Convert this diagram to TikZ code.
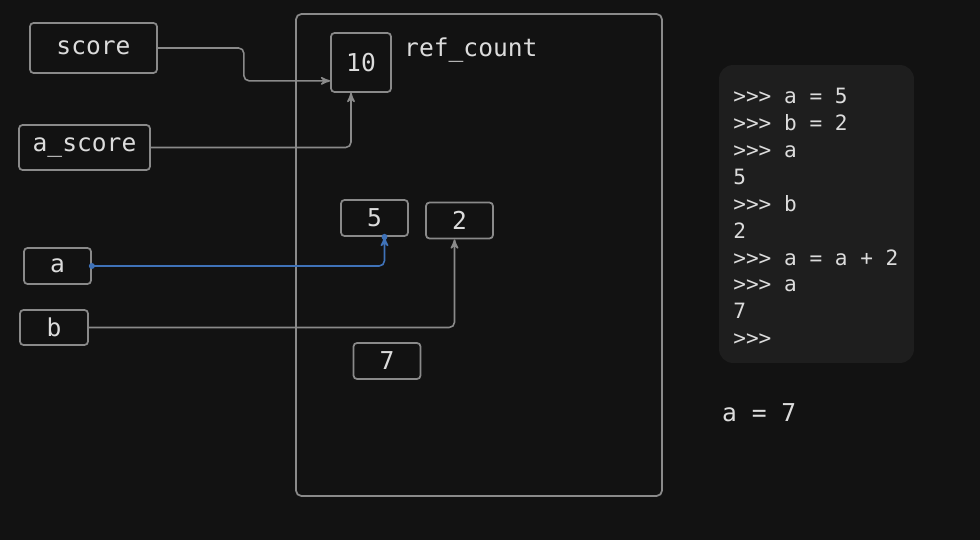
\documentclass[tikz,border=0pt]{standalone}
\usepackage{fontspec}
\setmonofont{DejaVu Sans Mono}
\usetikzlibrary{arrows}
\usepackage{xcolor}
\definecolor{bg}{HTML}{121212}
\definecolor{panel}{HTML}{1E1E1E}
\definecolor{edge}{HTML}{8A8A8A}
\definecolor{ink}{HTML}{DCDCDC}
\definecolor{link}{HTML}{3F72B8}
\begin{document}
\begin{tikzpicture}[x=0.02cm,y=-0.02cm,->,>=stealth',shorten >=0pt,
  var/.style={rectangle,rounded corners=2pt,draw=edge,line width=1pt,
    text=ink,font=\ttfamily\fontsize{14}{16}\selectfont,inner sep=0pt},
  obj/.style={rectangle,rounded corners=2pt,draw=edge,line width=1pt,
    text=ink,font=\ttfamily\fontsize{14}{16}\selectfont,inner sep=0pt,
    minimum width=1.34cm,minimum height=0.72cm},
  conn/.style={draw=edge,line width=0.9pt,rounded corners=3pt},
  label/.style={text=ink,font=\ttfamily\fontsize{14}{16}\selectfont}]

  \useasboundingbox[fill=bg] (0,0) rectangle (980,540);

  % memory area
  \node[draw=edge,line width=1pt,rounded corners=3pt,minimum width=7.32cm,
    minimum height=9.64cm] (mem) at (479,255) {};

  % names
  \node[var,minimum width=2.54cm,minimum height=1cm] (score) at (93.5,48) {score};
  \node[var,minimum width=2.62cm,minimum height=0.9cm] (ascore) at (84.5,147.5) {a\_score};
  \node[var,minimum width=1.34cm,minimum height=0.72cm] (a) at (57.5,266) {a};
  \node[var,minimum width=1.36cm,minimum height=0.7cm] (b) at (54,327.5) {b};

  % objects
  \node[obj,minimum width=1.2cm,minimum height=1.18cm] (ten) at (361,62.5) {10};
  \node[label,anchor=west] (refc) at (398,50) {ref\_count};
  \node[obj] (five) at (374.5,218) {5};
  \node[obj] (two) at (459.5,220.5) {2};
  \node[obj] (seven) at (387,361) {7};

  % interpreter
  \node[fill=panel,rounded corners=8pt,minimum width=3.9cm,
    minimum height=5.96cm] (term) at (816.5,214) {};
  \node[anchor=north west,align=left,text=ink,inner sep=0pt,
    font=\ttfamily\fontsize{12}{15.3}\selectfont] (session) at (733,88)
    {>>> a = 5\\>>> b = 2\\>>> a\\5\\>>> b\\2\\>>> a = a + 2\\>>> a\\7\\>>>};
  \node[label,anchor=west] (result) at (716,413) {a = 7};

  \draw[conn] (score.east) -- ++(86,0) |- ([yshift=0.24cm]ten.south west);
  \draw[conn] (ascore.east) -| ([xshift=-0.2cm]ten.south);
  \draw[conn] (b.east) -| ([xshift=-0.1cm]two.south);
  \draw[conn,draw=link] (a.east) -| ([xshift=0.2cm]five.south);
  \fill[link] (a.east) circle (3);
  \fill[link] ([xshift=0.2cm]five.south) circle (3);
\end{tikzpicture}
\end{document}
